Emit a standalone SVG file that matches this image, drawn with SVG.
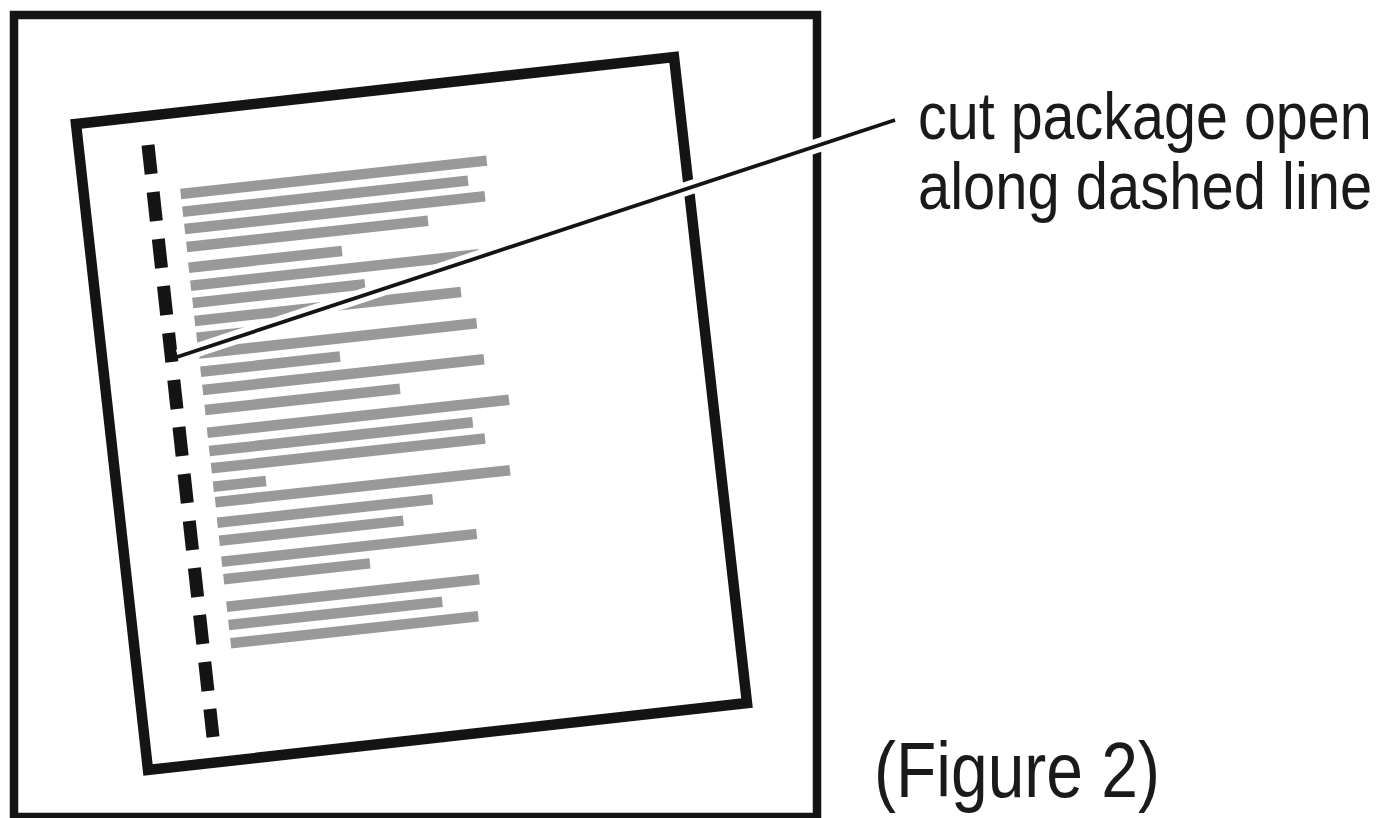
<svg xmlns="http://www.w3.org/2000/svg" width="1392" height="818" viewBox="0 0 1392 818">
  <style>
    .frame { fill: none; stroke: #141414; stroke-width: 8.5; }
    .pkg { fill: none; stroke: #141414; stroke-width: 10.5; stroke-linejoin: miter; }
    .dash { fill: none; stroke: #141414; stroke-width: 13; stroke-dasharray: 29 18; }
    .txt line { stroke: #999999; stroke-width: 10.5; stroke-linecap: butt; }
    .halo { stroke: #ffffff; stroke-width: 14; stroke-linecap: butt; fill: none; }
    .lead { stroke: #141414; stroke-width: 3.8; stroke-linecap: butt; fill: none; }
    .lbl { font-family: "Liberation Sans", Arial, sans-serif; fill: #1a1a1a; }
  </style>
  <rect x="0" y="0" width="1392" height="818" fill="#ffffff"/>
  <g id="outer-frame">
    <rect class="frame" x="14" y="15" width="803" height="802"/>
  </g>
  <g id="package">
    <polygon class="pkg" points="76,124 674,57 747,703 148,770"/>
    <path id="dashed-line" class="dash" d="M148,145 L213,737" pathLength="592"/>
    <g id="printed-lines" class="txt">
      <line x1="180.7" y1="194" x2="486.7" y2="160.6"/>
      <line x1="182.7" y1="211.7" x2="468" y2="180.6"/>
      <line x1="184.7" y1="229" x2="485" y2="196.3"/>
      <line x1="186.7" y1="247" x2="428" y2="220.7"/>
      <line x1="188.7" y1="267.7" x2="342" y2="251"/>
      <line x1="190.7" y1="285.7" x2="479" y2="254.3"/>
      <line x1="192.7" y1="303" x2="365" y2="284.2"/>
      <line x1="194.7" y1="321" x2="461" y2="292"/>
      <line x1="196.7" y1="337.7" x2="262" y2="330.6"/>
      <line x1="199" y1="353.6" x2="476.7" y2="323.3"/>
      <line x1="200.7" y1="371.7" x2="340" y2="356.5"/>
      <line x1="202.7" y1="390" x2="484" y2="359.3"/>
      <line x1="205" y1="410" x2="400" y2="388.7"/>
      <line x1="207.3" y1="432.7" x2="509" y2="399.8"/>
      <line x1="209.3" y1="451" x2="472.7" y2="422.3"/>
      <line x1="211.3" y1="468.3" x2="485" y2="438.5"/>
      <line x1="213.3" y1="486.7" x2="266" y2="481"/>
      <line x1="215.3" y1="502.3" x2="510" y2="470.2"/>
      <line x1="217.3" y1="522.7" x2="432.7" y2="499.2"/>
      <line x1="219.3" y1="540.7" x2="403.3" y2="520.6"/>
      <line x1="221.7" y1="561.7" x2="476.7" y2="533.9"/>
      <line x1="223.7" y1="579.3" x2="370" y2="563.4"/>
      <line x1="226.7" y1="606.7" x2="479.3" y2="579.2"/>
      <line x1="228.7" y1="625" x2="442.3" y2="601.7"/>
      <line x1="230.7" y1="643.3" x2="478.3" y2="616.3"/>
    </g>
  </g>
  <g id="connectors">
    <line class="halo" x1="178" y1="356.3" x2="889" y2="122"/>
    <line class="lead" x1="175.5" y1="357.5" x2="895" y2="120"/>
  </g>
  <g id="label">
    <text class="lbl" font-size="66" transform="translate(918 139) scale(0.871 1)">cut package open</text>
    <text class="lbl" font-size="66" transform="translate(918 209) scale(0.878 1)">along dashed line</text>
  </g>
  <g id="caption">
    <text class="lbl" font-size="78" transform="translate(874 797) scale(0.846 1)">(Figure 2)</text>
  </g>
</svg>
